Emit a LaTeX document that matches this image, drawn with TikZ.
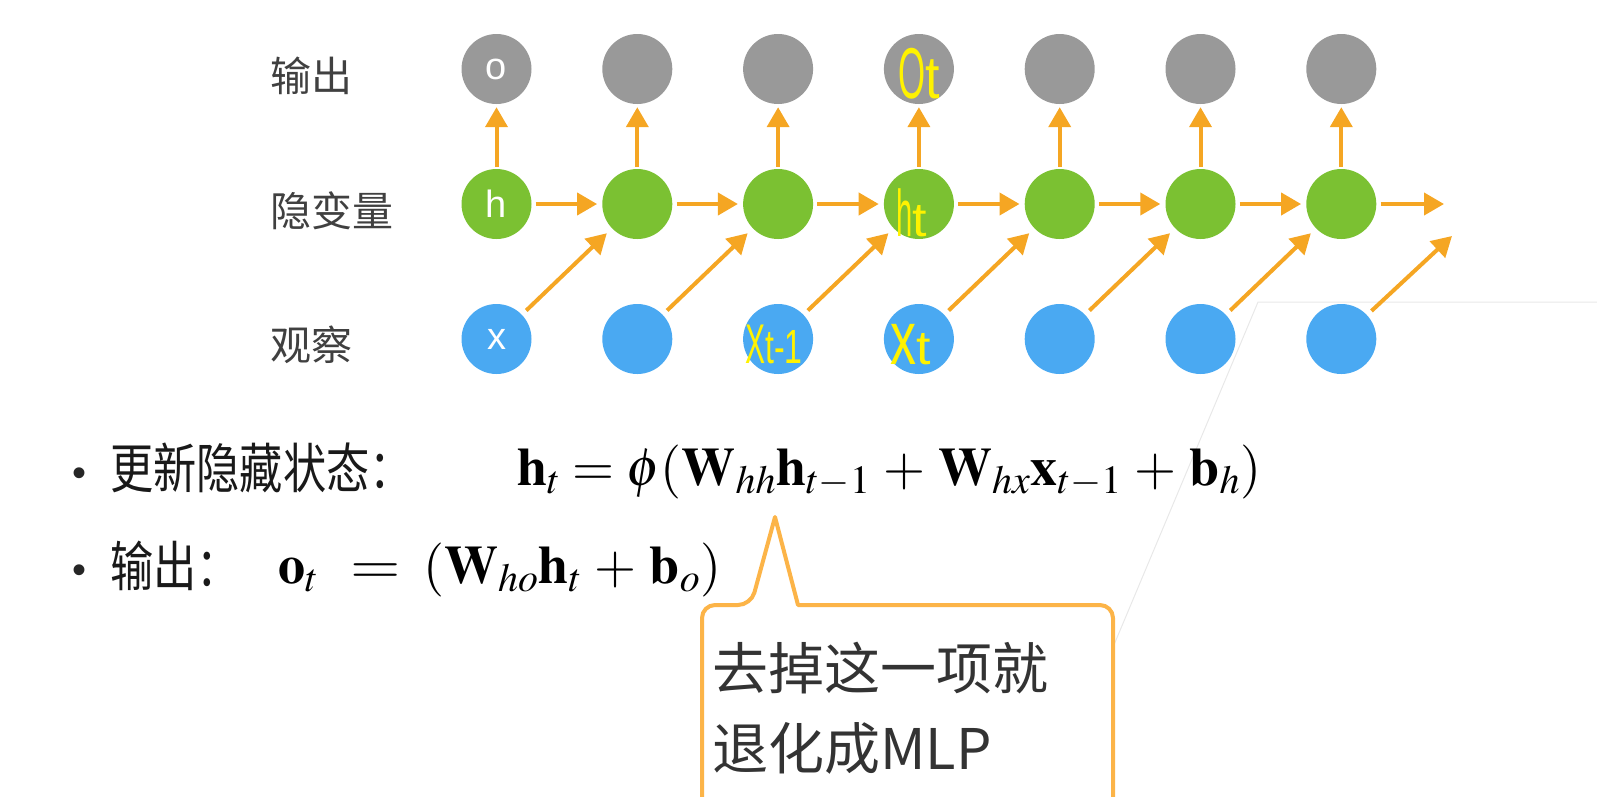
\documentclass[tikz,border=0pt]{standalone}
\usepackage{mathptmx}
\usepackage[no-math]{fontspec}
\setmainfont{Liberation Sans}
\newfontfamily\cjk{Noto Sans CJK SC}
\usetikzlibrary{arrows.meta}
\definecolor{cgray}{RGB}{153,153,153}
\definecolor{cgreen}{RGB}{123,193,50}
\definecolor{cblue}{RGB}{74,169,242}
\definecolor{corange}{RGB}{245,166,35}
\definecolor{cbox}{RGB}{252,180,72}
\definecolor{labgray}{RGB}{64,64,64}
\definecolor{hyellow}{RGB}{255,242,0}
\definecolor{faint}{RGB}{232,232,232}
\medmuskip=4.3mu plus 2mu minus 4mu
\begin{document}
\begin{tikzpicture}[x=1pt,y=-1pt,
  nd/.style={circle,minimum size=70pt,inner sep=0pt,text=white,font=\fontsize{38}{38}\selectfont},
  onode/.style={nd,fill=cgray},
  hnode/.style={nd,fill=cgreen},
  xnode/.style={nd,fill=cblue},
  arr/.style={draw=corange,line width=4pt,-{Triangle[width=22pt,length=20pt]}},
  lab/.style={anchor=west,inner sep=0pt,text=labgray,font=\cjk\fontsize{41}{41}\selectfont},
  hand/.style={anchor=base west,inner sep=0pt,text=hyellow,font=\fontsize{40}{40}\selectfont},
  bul/.style={anchor=base west,inner sep=0pt,text=black!85,font=\fontsize{40}{40}\selectfont},
  ctext/.style={anchor=base west,inner sep=0pt,text=black!90,font=\cjk\fontsize{54}{54}\selectfont},
  mtext/.style={anchor=base west,inner sep=0pt,font=\fontsize{54}{60}\selectfont},
  note/.style={anchor=west,inner sep=0pt,text=black!80,font=\cjk\fontsize{56}{80}\selectfont}
]
\useasboundingbox (0,0) rectangle (1597,796);
\clip (0,0) rectangle (1597,796);

% faint background line
\draw[faint,line width=1pt] (1095,690) -- (1258,302) -- (1597,302);

% row labels
\node[lab] (l1) at (270,76) {输出};
\node[lab] (l2) at (270,211) {隐变量};
\node[lab] (l3) at (270,345) {观察};

% first column
\node[onode] (o1) at (496.5,69) {o};
\node[hnode] (h1) at (496.5,204) {h};
\node[xnode] (x1) at (496.5,339) {x};
\foreach \i in {2,...,7}{
  \node[onode] (o\i) at ({496.5+140.8*(\i-1)},69) {};
  \node[hnode] (h\i) at ({496.5+140.8*(\i-1)},204) {};
  \node[xnode] (x\i) at ({496.5+140.8*(\i-1)},339) {};
}
\coordinate (hend) at (1444,204);
\coordinate (dend) at (1452,236);

% arrows
\foreach \i in {1,...,7}{
  \draw[arr,shorten <=2pt,shorten >=3pt] (h\i) -- (o\i);
}
\foreach \i in {1,...,6}{
  \pgfmathtruncatemacro\j{\i+1}
  \draw[arr,shorten <=4pt,shorten >=5pt] (h\i) -- (h\j);
  \draw[arr,shorten <=6pt,shorten >=7pt] (x\i) -- (h\j);
}
\draw[arr,shorten <=4pt] (h7) -- (hend);
\draw[arr,shorten <=6pt] (x7) -- (dend);

% handwritten annotations
\node[hand] (a1) at (898,98) {\scalebox{0.87}[1.8]{O}\scalebox{1.3}[1.5]{t}};
\node[hand] (a2) at (896,236) {\scalebox{0.73}[1.65]{h}\scalebox{1.3}[1.2]{t}};
\node[hand] (a3) at (745,363) {\scalebox{0.75}[1.4]{X}\scalebox{0.8}[1.2]{t-1}};
\node[hand] (a4) at (890,364) {\scalebox{1.3}[1.9]{x}\scalebox{1.3}[1.2]{t}};

% bullet lines
\node[bul] (b1) at (72,486) {•};
\node[ctext] (c1) at (110,488) {\scalebox{0.8}[1]{更新隐藏状态：}};
\node[mtext] (m1) at (517,485) {$\mathbf{h}_t = \phi(\mathbf{W}_{hh}\mathbf{h}_{t-1} + \mathbf{W}_{hx}\mathbf{x}_{t-1} + \mathbf{b}_h)$};
\node[bul] (b2) at (72,583) {•};
\node[ctext] (c2) at (110,586) {\scalebox{0.8}[1]{输出：}};
\node[mtext] (m2a) at (278,583) {$\mathbf{o}_t$};
\node[mtext] (m2b) at (350,583) {\scalebox{1.2}[1]{$=$}};
\node[mtext] (m2c) at (423,583) {$(\mathbf{W}_{ho}\mathbf{h}_t + \mathbf{b}_o)$};

% callout
\draw[cbox,line width=4pt,fill=white,line join=round]
  (751,605) -- (775,517) -- (798,605) [rounded corners=13pt] -- (1113,605) -- (1113,830) -- (702,830) -- (702,605) -- cycle;
\node[note] (n1) at (712,668) {去掉这一项就};
\node[note] (n2) at (712,748) {退化成MLP};
\end{tikzpicture}
\end{document}
